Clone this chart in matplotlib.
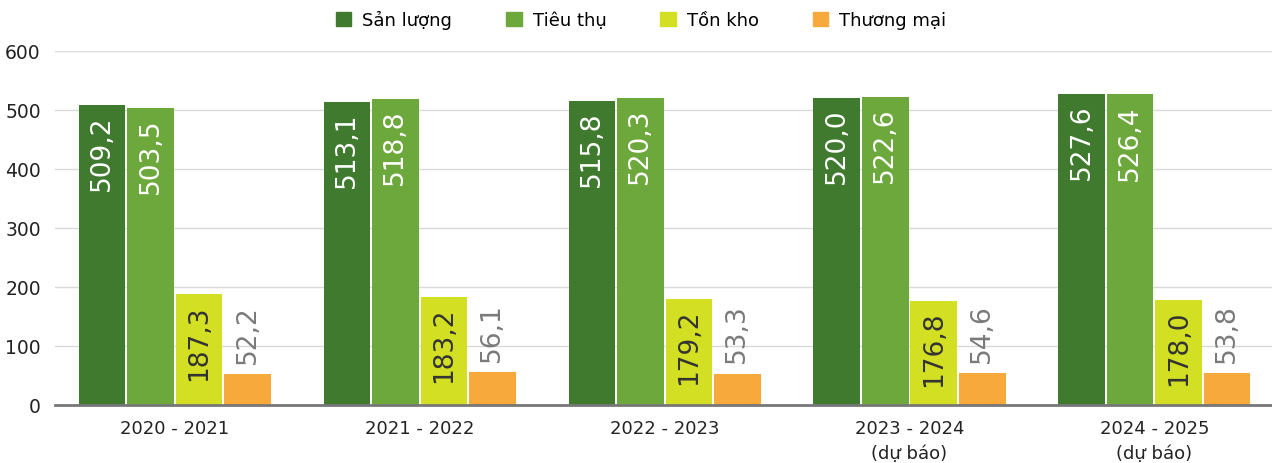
import numpy as np
import matplotlib.pyplot as plt
from matplotlib.patches import Patch

# data
seasons = ["2020 - 2021", "2021 - 2022", "2022 - 2023", "2023 - 2024\n(dự báo)", "2024 - 2025\n(dự báo)"]
series_names = ["Sản lượng", "Tiêu thụ", "Tồn kho", "Thương mại"]
san_luong = [509.2, 513.1, 515.8, 520.0, 527.6]
tieu_thu = [503.5, 518.8, 520.3, 522.6, 526.4]
ton_kho = [187.3, 183.2, 179.2, 176.8, 178.0]
thuong_mai = [52.2, 56.1, 53.3, 54.6, 53.8]

colors = ["#3f7a2f", "#6ca83c", "#d3df22", "#f8a93c"]
label_colors = ["white", "white", "#333333", "#7a7a7a"]

fig = plt.figure(figsize=(12.72, 4.64), dpi=100)
ax = fig.add_axes([0.043, 0.125, 0.957, 0.763])

x = np.arange(len(seasons))
w = 0.19
step = 0.198
all_series = [san_luong, tieu_thu, ton_kho, thuong_mai]

for i, vals in enumerate(all_series):
    pos = x + (i - 1.5) * step
    ax.bar(pos, vals, width=w, color=colors[i], zorder=3)
    for p, v in zip(pos, vals):
        txt = "{:.1f}".format(v).replace(".", ",")
        if i < 3:
            # value inside the bar, near the top
            ax.annotate(txt, (p, v), xytext=(0, -7), textcoords="offset points",
                        rotation=90, ha="center", va="top", fontsize=19,
                        color=label_colors[i], zorder=4)
        else:
            ax.annotate(txt, (p, v), xytext=(0, 8), textcoords="offset points",
                        rotation=90, ha="center", va="bottom", fontsize=19,
                        color=label_colors[i], zorder=4)

ax.set_ylim(0, 600)
ax.set_xlim(-0.49, 4.48)
ax.set_yticks([0, 100, 200, 300, 400, 500, 600])
ax.set_xticks(x)
ax.set_xticklabels(seasons, fontsize=13, color="#222222", linespacing=1.5)
ax.tick_params(axis="y", labelsize=13.5, colors="#222222", length=0, pad=10)
ax.tick_params(axis="x", length=0, pad=10)
ax.grid(axis="y", color="#d9d9d9", linewidth=1.0, zorder=0)
for s in ["top", "right", "left"]:
    ax.spines[s].set_visible(False)
ax.spines["bottom"].set_color("#777777")
ax.spines["bottom"].set_linewidth(2)
ax.spines["bottom"].set_zorder(5)

handles = [Patch(color=c, label=n) for c, n in zip(colors, series_names)]
fig.legend(handles=handles, loc="center", bbox_to_anchor=(0.504, 0.955), ncol=4,
           frameon=False, fontsize=13, handlelength=0.85, handleheight=0.85,
           columnspacing=3.0, handletextpad=0.6)

fig.savefig("out.png", dpi=100)
